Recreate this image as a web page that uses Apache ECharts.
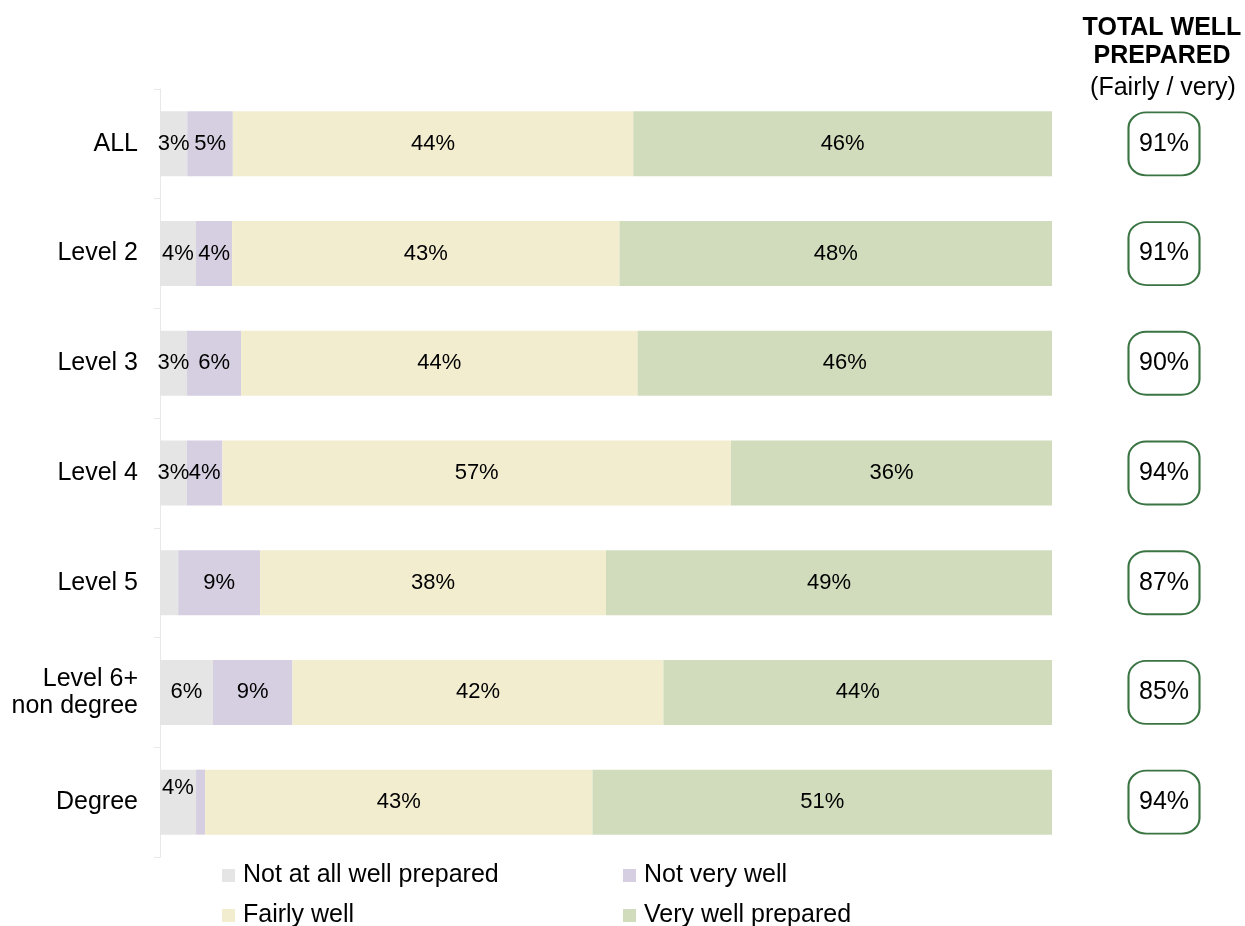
<!DOCTYPE html>
<html><head><meta charset="utf-8">
<script src="https://cdn.jsdelivr.net/npm/echarts@6/dist/echarts.min.js"></script>
<style>html,body{margin:0;padding:0;background:#fff}#c{width:1245px;height:926px}</style>
</head><body><div id="c"></div>
<script>
const categories = ['ALL', 'Level 2', 'Level 3', 'Level 4', 'Level 5', 'Level 6+\nnon degree', 'Degree'];
const notAtAll = [3, 4, 3, 3, 2, 6, 4];
const notVery = [5, 4, 6, 4, 9, 9, 1];
const fairly = [44, 43, 44, 57, 38, 42, 43];
const very = [46, 48, 46, 36, 49, 44, 51];
const totalWell = [91, 91, 90, 94, 87, 85, 94];
const seriesNames = ['Not at all well prepared', 'Not very well', 'Fairly well', 'Very well prepared'];
const colors = ['#e5e5e5', '#d6cfe1', '#f3edcf', '#d1dcbc'];

const FONT = 'Liberation Sans, Arial, sans-serif';
const raw = [notAtAll, notVery, fairly, very];
const rowTotals = categories.map((_, i) => raw.reduce((s, a) => s + a[i], 0));

const barSeries = raw.map((arr, si) => ({
  name: seriesNames[si],
  type: 'bar',
  stack: 'all',
  barWidth: 65,
  xAxisIndex: 0, yAxisIndex: 0,
  itemStyle: { color: colors[si] },
  data: arr.map((v, i) => {
    const d = { value: v / rowTotals[i] * 100, raw: v };
    if (v < 3) d.label = { show: false };
    if (si === 0 && i === 6) d.label = { show: true, offset: [0, -14] };
    return d;
  }),
  label: {
    show: true, position: 'inside', color: '#000', fontFamily: FONT, fontSize: 22,
    formatter: p => p.data.raw + '%'
  }
}));

const legendPos = [[222, 863], [623, 863], [222, 903], [623, 903]];
const legends = seriesNames.map((n, i) => ({
  data: [n], left: legendPos[i][0], top: legendPos[i][1], padding: 0,
  itemWidth: 13, itemHeight: 13, icon: 'rect', itemGap: 0,
  textStyle: { fontSize: 25, color: '#000', fontFamily: FONT, padding: [0, 0, 0, 3] }
}));

const chart = echarts.init(document.getElementById('c'));
chart.setOption({
  animation: false,
  textStyle: { fontFamily: FONT },
  grid: [
    { left: 160, right: 193, top: 89, bottom: 69 },
    { left: 1128, width: 72, top: 89, bottom: 69 }
  ],
  xAxis: [
    { gridIndex: 0, type: 'value', min: 0, max: 100, show: false },
    { gridIndex: 1, type: 'value', min: 0, max: 1, show: false }
  ],
  yAxis: [
    { gridIndex: 0, type: 'category', data: categories, inverse: true,
      axisLine: { show: true, lineStyle: { color: '#e8e8e8', width: 1 } },
      axisTick: { show: true, length: 6, lineStyle: { color: '#e8e8e8' } },
      axisLabel: { color: '#000', fontSize: 25, fontFamily: FONT, margin: 22, lineHeight: 27, align: 'right' } },
    { gridIndex: 1, type: 'category', data: categories, inverse: true, show: false }
  ],
  legend: legends,
  graphic: [
    { type: 'text', x: 1162, y: 28, style: { text: 'TOTAL WELL', font: 'bold 25px ' + FONT, fill: '#000', align: 'center', verticalAlign: 'middle' } },
    { type: 'text', x: 1162, y: 56, style: { text: 'PREPARED', font: 'bold 25px ' + FONT, fill: '#000', align: 'center', verticalAlign: 'middle' } },
    { type: 'text', x: 1163, y: 88, style: { text: '(Fairly / very)', font: '25px ' + FONT, fill: '#000', align: 'center', verticalAlign: 'middle' } }
  ],
  series: barSeries.concat([{
    type: 'scatter', xAxisIndex: 1, yAxisIndex: 1,
    symbol: 'roundRect', symbolSize: [71, 63],
    itemStyle: { color: '#fff', borderColor: '#3b7443', borderWidth: 2, opacity: 1 },
    label: { show: true, position: 'inside', color: '#000', fontSize: 25, fontFamily: FONT, formatter: p => p.data[2] + '%' },
    data: totalWell.map((v, i) => [0.5, categories[i], v]),
    silent: true
  }])
});
</script></body></html>
